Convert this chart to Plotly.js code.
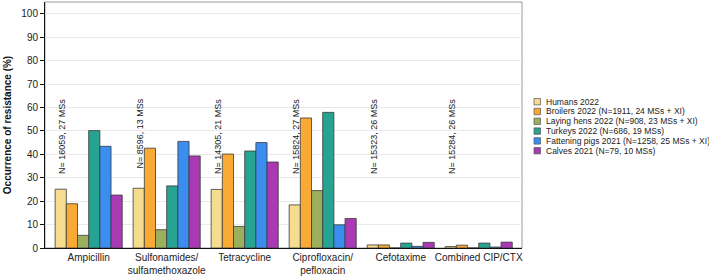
<!DOCTYPE html>
<html>
<head>
<meta charset="utf-8">
<script src="https://cdn.plot.ly/plotly-3.0.1.min.js"></script>
<style>html,body{margin:0;padding:0;background:#fff;}#chart{width:709px;height:277px;}</style>
</head>
<body>
<div id="chart"></div>
<script>
const categories = ["Ampicillin", "Sulfonamides/<br>sulfamethoxazole", "Tetracycline", "Ciprofloxacin/<br>pefloxacin", "Cefotaxime", "Combined CIP/CTX"];
const seriesNames = [
  "Humans 2022",
  "Broilers 2022 (N=1911, 24 MSs + XI)",
  "Laying hens 2022 (N=908, 23 MSs + XI)",
  "Turkeys 2022 (N=686, 19 MSs)",
  "Fattening pigs 2021 (N=1258, 25 MSs + XI)",
  "Calves 2021 (N=79, 10 MSs)"
];
const humans     = [25.1, 25.5, 25.0, 18.4, 1.3, 0.6];
const broilers   = [18.9, 42.6, 40.1, 55.5, 1.3, 1.2];
const layingHens = [5.4, 7.8, 9.2, 24.5, 0, 0];
const turkeys    = [50.1, 26.5, 41.4, 57.9, 2.1, 2.1];
const pigs       = [43.4, 45.5, 45.0, 9.9, 0.7, 0.4];
const calves     = [22.6, 39.3, 36.7, 12.6, 2.4, 2.5];
const groupLabels = ["N= 16059, 27 MSs", "N= 8596, 13 MSs", "N= 14305, 21 MSs", "N= 15824, 27 MSs", "N= 15323, 26 MSs", "N= 15284, 26 MSs"];
const colors = ["#F6DC8E", "#F9AA35", "#9CAF5C", "#27A392", "#3B8EF0", "#A93AB3"];

const allSeries = [humans, broilers, layingHens, turkeys, pigs, calves];
const FONT = "Liberation Sans, Arial, sans-serif";

const traces = allSeries.map((vals, i) => ({
  type: "bar",
  x: categories,
  y: vals,
  name: seriesNames[i],
  marker: {color: colors[i], line: {color: "#3a3a3a", width: 0.8}},
  hoverinfo: "skip",
  showlegend: false
}));

const annotations = groupLabels.map((t, i) => ({
  xref: "x", yref: "y",
  x: i - 0.345, y: 64.6,
  text: t,
  textangle: -90,
  showarrow: false,
  xanchor: "center", yanchor: "top",
  font: {family: FONT, size: 9, color: "#222"}
}));

// custom legend (compact spacing)
const plotL = 45, plotW = 477, plotT = 2, plotH = 246;
const px2x = p => (p - plotL) / plotW;
const py2y = p => (plotT + plotH - p) / plotH;
const shapes = [{
  type: "rect", xref: "paper", yref: "paper", x0: 0, x1: 1, y0: 0, y1: 1,
  line: {color: "#9a9a9a", width: 1}, layer: "below"
}];
seriesNames.forEach((n, i) => {
  const cy = 101.7 + i * 9.8;
  shapes.push({
    type: "rect", xref: "paper", yref: "paper",
    x0: px2x(534), x1: px2x(540.5), y0: py2y(cy + 3.2), y1: py2y(cy - 3.2),
    fillcolor: colors[i], line: {color: "#555", width: 0.7}
  });
  annotations.push({
    xref: "paper", yref: "paper", x: px2x(543.5), y: py2y(cy),
    text: n, showarrow: false, xanchor: "left", yanchor: "middle",
    font: {family: FONT, size: 8.5, color: "#222"}
  });
});

const layout = {
  width: 709, height: 277,
  margin: {l: plotL, r: 709 - plotL - plotW, t: plotT, b: 277 - plotT - plotH},
  paper_bgcolor: "#fff", plot_bgcolor: "#fff",
  barmode: "group", bargap: 0.14, bargroupgap: 0,
  showlegend: false,
  font: {family: FONT, size: 10, color: "#222"},
  xaxis: {
    type: "category", range: [-0.56, 5.555],
    showline: true, linecolor: "#111", linewidth: 1,
    ticks: "", showgrid: false, zeroline: false,
    tickfont: {family: FONT, size: 10, color: "#222"}
  },
  yaxis: {
    range: [0, 105], dtick: 10, tick0: 0,
    showline: true, linecolor: "#111", linewidth: 1,
    ticks: "outside", ticklen: 4, tickcolor: "#111",
    showgrid: true, gridcolor: "#e9e9e9", gridwidth: 1,
    zeroline: false,
    tickfont: {family: FONT, size: 10, color: "#222"},
    title: {text: "<b>Occurrence of resistance (%)</b>", font: {family: FONT, size: 10, color: "#111"}, standoff: 7}
  },
  annotations: annotations,
  shapes: shapes
};

Plotly.newPlot("chart", traces, layout, {displayModeBar: false, staticPlot: true});
</script>
</body>
</html>
